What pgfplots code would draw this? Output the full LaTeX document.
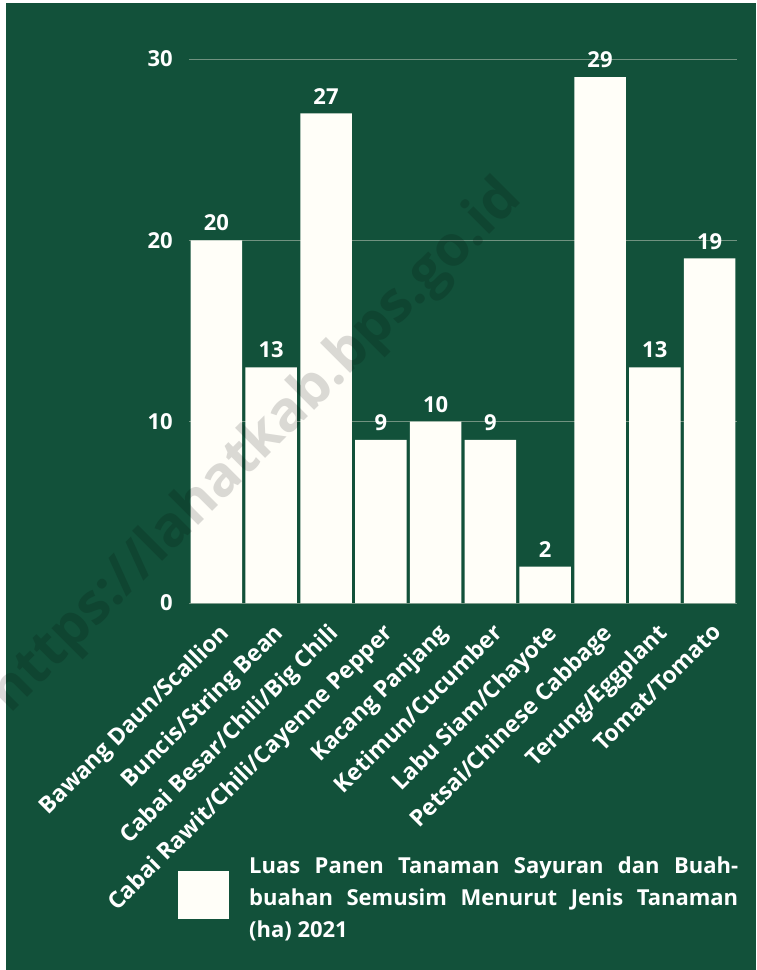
\documentclass[border=0pt]{standalone}
\usepackage{fontspec}
\setmainfont{Open Sans}
\usepackage{pgfplots}
\pgfplotsset{compat=1.18}
\definecolor{bg}{RGB}{18,81,58}
\definecolor{barw}{RGB}{255,254,248}
\definecolor{gridc}{RGB}{112,146,128}
\definecolor{wm}{RGB}{218,218,218}
\begin{document}
\begin{tikzpicture}[x=1pt,y=1pt]
\fill[bg] (0,0) rectangle (756,970);
\fill[white] (0,0) rectangle (6,970);
\fill[white] (0,967) rectangle (756,970);
\useasboundingbox (0,0) rectangle (756,970);
\begin{axis}[
  at={(189pt,367pt)}, anchor=south west,
  scale only axis, width=548pt, height=544pt,
  xmin=-0.5, xmax=9.5, ymin=0, ymax=30,
  axis line style={draw=none}, major tick length=0pt,
  ytick={0,10,20,30}, ymajorgrids, grid style={gridc, line width=0.9pt},
  xtick=data,
  xticklabels={Bawang Daun/Scallion, Buncis/String Bean, Cabai Besar/Chili/Big Chili, Cabai Rawit/Chili/Cayenne Pepper, Kacang Panjang, Ketimun/Cucumber, Labu Siam/Chayote, Petsai/Chinese Cabbage, Terung/Eggplant, Tomat/Tomato},
  x tick label style={rotate=45, anchor=north east, inner sep=0pt, font=\bfseries\fontsize{23}{23}\selectfont, text=white, yshift=-14pt, xshift=-12.5pt},
  y tick label style={font=\bfseries\fontsize{22}{22}\selectfont, text=white, inner sep=0pt, xshift=-16pt},
  /pgf/number format/assume math mode=true,
  ybar, bar width=51.5pt,
  nodes near coords,
  nodes near coords style={font=\bfseries\fontsize{22}{22}\selectfont, text=white, anchor=south, inner sep=0pt, yshift=9pt},
  clip=false,
  legend style={at={(-0.0201,-0.537)}, anchor=west, draw=none, fill=none, text=white, inner sep=0pt, column sep=18pt},
  legend image code/.code={\fill[barw] (0pt,-24pt) rectangle (51pt,24pt);},
]
\addplot[fill=barw, draw=none] coordinates {(0,20) (1,13) (2,27) (3,9) (4,10) (5,9) (6,2) (7,29) (8,13) (9,19)};
\addlegendentry{\raisebox{31pt}{\parbox{489pt}{\fontsize{22}{32}\selectfont\bfseries Luas Panen Tanaman Sayuran dan Buah-\linebreak buahan Semusim Menurut Jenis Tanaman\linebreak (ha) 2021}}}
\end{axis}
\begin{scope}[blend mode=multiply]
\clip (0,0) rectangle (756,970);
\node[rotate=45, font=\bfseries\fontsize{56}{56}\selectfont, text=wm] at (257,523) {https://lahatkab.bps.go.id};
\end{scope}
\end{tikzpicture}
\end{document}
